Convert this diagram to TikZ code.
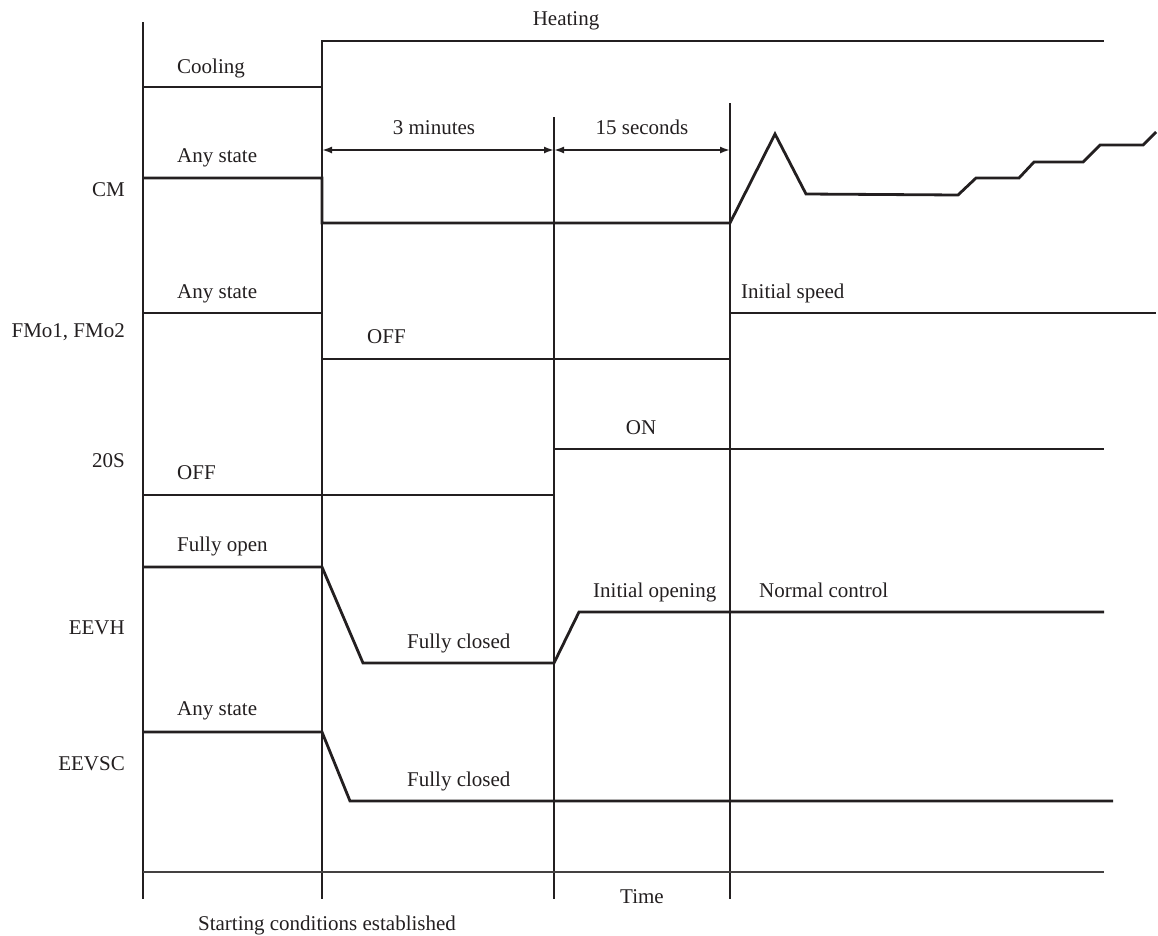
\documentclass[tikz,border=0pt]{standalone}
\usepackage{fontspec}
\setmainfont{Liberation Serif}
\usetikzlibrary{arrows.meta}
\definecolor{ink}{RGB}{35,31,32}
\begin{document}
\begin{tikzpicture}[x=1pt,y=-1pt,
  sig/.style={line width=2.8pt, line join=miter, draw=ink},
  gridline/.style={line width=1.2pt, draw=ink},
  axisline/.style={line width=1.5pt, draw=ink!85},
  dim/.style={line width=1.8pt, draw=ink, {Latex[length=10pt,width=7pt]}-{Latex[length=10pt,width=7pt]}},
  txt/.style={font=\fontsize{21}{25}\selectfont, inner sep=0pt, text=ink, anchor=base west},
  rlbl/.style={txt, anchor=base east},
  ctxt/.style={txt, anchor=base}]
\useasboundingbox (0,0) rectangle (1158,935);

% grid coordinates
\coordinate (g0t) at (143,22);  \coordinate (g0b) at (143,899);
\coordinate (g1t) at (322,41);  \coordinate (g1b) at (322,899);
\coordinate (g2t) at (554,117); \coordinate (g2b) at (554,899);
\coordinate (g3t) at (730,103); \coordinate (g3b) at (730,899);
\coordinate (ta) at (143,872);  \coordinate (tb) at (1104,872);

\draw[gridline] (g0t) -- (g0b);
\draw[gridline] (g1t) -- (g1b);
\draw[gridline] (g2t) -- (g2b);
\draw[gridline] (g3t) -- (g3b);
\draw[axisline] (ta) -- (tb);

% dimension arrows
\coordinate (d1) at (322,150); \coordinate (d2) at (554,150); \coordinate (d3) at (730,150);
\draw[dim] (d1) -- (d2);
\draw[dim] (d2) -- (d3);

% signals
\draw[sig] (143,87) -- (322,87) -- (322,41) -- (1104,41);
\draw[sig] (143,178) -- (322,178) -- (322,223) -- (730,223) -- (775,134) -- (806,194)
  -- (958,195) -- (976,178) -- (1019,178) -- (1034,162) -- (1083,162) -- (1100,145)
  -- (1143,145) -- (1156,132);
\draw[sig] (143,313) -- (322,313) -- (322,359) -- (730,359) -- (730,313) -- (1156,313);
\draw[sig] (143,495) -- (554,495) -- (554,449) -- (1104,449);
\draw[sig] (143,567) -- (322,567) -- (363,663) -- (554,663) -- (579,612) -- (1104,612);
\draw[sig] (143,732) -- (322,732) -- (350,801) -- (1113,801);

% texts
\node[ctxt] (heating) at (566,25) {Heating};
\node[txt] (cooling) at (177,73) {Cooling};
\node[ctxt] (min3) at (434,134) {3 minutes};
\node[ctxt] (sec15) at (642,134) {15 seconds};
\node[txt] (cmany) at (177,162) {Any state};
\node[rlbl] (cm) at (125,196) {CM};
\node[txt] (fmany) at (177,298) {Any state};
\node[rlbl] (fm) at (125,337) {FMo1, FMo2};
\node[txt] (fmoff) at (367,343) {OFF};
\node[txt] (fminit) at (741,298) {Initial speed};
\node[ctxt] (son) at (641,434) {ON};
\node[rlbl] (s20) at (125,467) {20S};
\node[txt] (soff) at (177,479) {OFF};
\node[txt] (hopen) at (177,551) {Fully open};
\node[txt] (hinit) at (593,597) {Initial opening};
\node[txt] (hnorm) at (759,597) {Normal control};
\node[rlbl] (eevh) at (125,634) {EEVH};
\node[txt] (hclosed) at (407,648) {Fully closed};
\node[txt] (scany) at (177,715) {Any state};
\node[rlbl] (eevsc) at (125,770) {EEVSC};
\node[txt] (scclosed) at (407,786) {Fully closed};
\node[ctxt] (time) at (642,903) {Time};
\node[ctxt] (start) at (327,930) {Starting conditions established};
\end{tikzpicture}
\end{document}
